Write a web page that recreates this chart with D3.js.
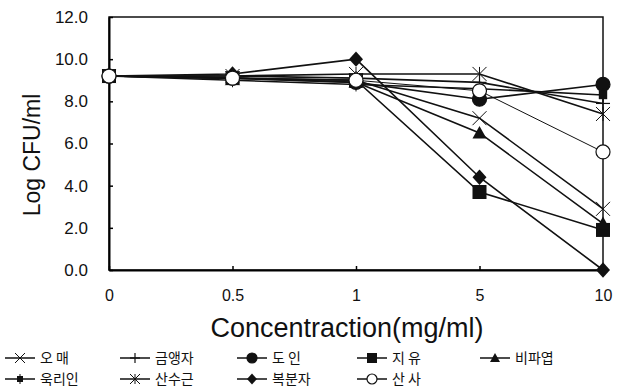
<!DOCTYPE html>
<meta charset="utf-8">
<style>
    body { margin: 0; background: white; }
    svg text { font-family: Arial, "Liberation Sans", sans-serif; fill: #111; }
    .leg text { font-family: "Noto Sans CJK KR", sans-serif; font-size: 14px; }
</style>
<body>
<svg id="chart" width="638" height="392"></svg>
<script src="https://d3js.org/d3.v7.min.js"></script>
<script>
    // x categories (concentration, mg/ml)
    const concentrations = ["0", "0.5", "1", "5", "10"];
    const yTicks = [0, 2, 4, 6, 8, 10, 12];

    // one array per extract, Log CFU/ml at each concentration
    const omae      = [9.2, 9.1, 9.0, 7.2, 2.9];   // 오 매
    const geumaengja = [9.2, 9.2, 9.1, 8.9, 7.9];  // 금앵자
    const doin      = [9.2, 9.1, 8.9, 8.1, 8.8];   // 도 인
    const jiyu      = [9.2, 9.1, 9.0, 3.7, 1.9];   // 지 유
    const bipayeop  = [9.2, 9.1, 8.9, 6.5, 2.2];   // 비파엽
    const ukriin    = [9.2, 9.0, 8.8, 8.6, 8.3];   // 욱리인
    const sansugeun = [9.2, 9.2, 9.3, 9.3, 7.4];   // 산수근
    const bokbunja  = [9.2, 9.3, 10.0, 4.4, 0.0];  // 복분자
    const sansa     = [9.2, 9.1, 9.0, 8.5, 5.6];   // 산 사

    const seriesNames = ["오 매", "금앵자", "도 인", "지 유", "비파엽", "욱리인", "산수근", "복분자", "산 사"];
    const seriesValues = [omae, geumaengja, doin, jiyu, bipayeop, ukriin, sansugeun, bokbunja, sansa];
    const seriesMarkers = ["x", "plus", "circle", "square", "triangle", "smallsq", "star", "diamond", "ocircle"];

    const svg = d3.select("#chart");
    const pLeft = 109, pRight = 603, pTop = 17, pBottom = 270;

    const x = d3.scalePoint().domain(concentrations).range([pLeft, pRight]);
    const y = d3.scaleLinear().domain([0, 12]).range([pBottom, pTop]);

    // frame
    svg.append("rect")
        .attr("x", pLeft).attr("y", pTop)
        .attr("width", pRight - pLeft).attr("height", pBottom - pTop)
        .attr("fill", "none").attr("stroke", "#111").attr("stroke-width", 1.5);

    // y axis
    const yAxis = d3.axisLeft(y).tickValues(yTicks).tickSizeInner(-4).tickSizeOuter(0)
        .tickPadding(21).tickFormat(d3.format(".1f"));
    const gy = svg.append("g").attr("transform", `translate(${pLeft},0)`).call(yAxis);
    gy.select(".domain").attr("stroke-width", 2);
    gy.selectAll("line").attr("stroke-width", 1.5);
    gy.selectAll("text").style("font-size", "17px").style("fill", "#111");

    // x axis
    const xAxis = d3.axisBottom(x).tickSizeInner(-4).tickSizeOuter(0).tickPadding(20);
    const gx = svg.append("g").attr("transform", `translate(0,${pBottom})`).call(xAxis);
    gx.select(".domain").attr("stroke-width", 2);
    gx.selectAll("line").attr("stroke-width", 1.5);
    gx.selectAll("text").style("font-size", "16px").style("fill", "#111");

    svg.append("text")
        .attr("transform", "translate(40,155) rotate(-90)")
        .attr("text-anchor", "middle")
        .style("font-size", "23px")
        .text("Log CFU/ml");

    svg.append("text")
        .attr("x", 347).attr("y", 337)
        .attr("text-anchor", "middle")
        .style("font-size", "27px")
        .text("Concentraction(mg/ml)");

    function drawMarker(g, type, cx, cy, s) {
        if (type === "circle" || type === "ocircle") {
            g.append("circle").attr("cx", cx).attr("cy", cy).attr("r", s)
                .attr("fill", type === "circle" ? "#111" : "white")
                .attr("stroke", "#111").attr("stroke-width", 1.2);
        } else if (type === "square") {
            g.append("rect").attr("x", cx - s).attr("y", cy - s)
                .attr("width", 2 * s).attr("height", 2 * s).attr("fill", "#111");
        } else if (type === "smallsq") {
            g.append("rect").attr("x", cx - s * 0.6).attr("y", cy - s * 0.6)
                .attr("width", 1.2 * s).attr("height", 1.2 * s).attr("fill", "#111");
            g.append("line").attr("x1", cx).attr("x2", cx).attr("y1", cy - s).attr("y2", cy + s)
                .attr("stroke", "#111").attr("stroke-width", 1);
        } else if (type === "diamond") {
            g.append("path").attr("d", `M${cx},${cy - s * 1.1}L${cx + s},${cy}L${cx},${cy + s * 1.1}L${cx - s},${cy}Z`)
                .attr("fill", "#111");
        } else if (type === "triangle") {
            g.append("path").attr("d", `M${cx},${cy - s}L${cx + s},${cy + s * 0.8}L${cx - s},${cy + s * 0.8}Z`)
                .attr("fill", "#111");
        } else if (type === "x" || type === "star") {
            const p = [[-s, -s, s, s], [-s, s, s, -s]];
            if (type === "star") p.push([0, -s, 0, s]);
            p.forEach(l => g.append("line")
                .attr("x1", cx + l[0]).attr("y1", cy + l[1]).attr("x2", cx + l[2]).attr("y2", cy + l[3])
                .attr("stroke", "#111").attr("stroke-width", 1));
        } else if (type === "plus") {
            g.append("line").attr("x1", cx - s).attr("x2", cx + s).attr("y1", cy).attr("y2", cy)
                .attr("stroke", "#111").attr("stroke-width", 1.2);
            g.append("line").attr("x1", cx).attr("x2", cx).attr("y1", cy - s).attr("y2", cy + s)
                .attr("stroke", "#111").attr("stroke-width", 1.2);
        }
    }

    const line = d3.line().x((d, i) => x(concentrations[i])).y(d => y(d));

    const plot = svg.append("g");
    seriesValues.forEach((vals, k) => {
        plot.append("path").datum(vals)
            .attr("d", line)
            .attr("fill", "none")
            .attr("stroke", "#111")
            .attr("stroke-width", seriesMarkers[k] === "ocircle" ? 1 : 1.6);
    });
    seriesValues.forEach((vals, k) => {
        const g = plot.append("g");
        vals.forEach((v, i) => drawMarker(g, seriesMarkers[k], x(concentrations[i]), y(v), 7));
    });

    // legend
    const legX = [5, 120, 237, 357, 480];
    const legY = [358, 379];
    const leg = svg.append("g").attr("class", "leg");
    seriesNames.forEach((name, k) => {
        const lx = legX[k % 5], ly = legY[Math.floor(k / 5)];
        const g = leg.append("g");
        g.append("line").attr("x1", lx).attr("x2", lx + 30).attr("y1", ly).attr("y2", ly)
            .attr("stroke", "#111").attr("stroke-width", 1.5);
        drawMarker(g, seriesMarkers[k], lx + 15, ly, 5);
        g.append("text").attr("x", lx + 35).attr("y", ly + 5).text(name);
    });
</script>
</body>
